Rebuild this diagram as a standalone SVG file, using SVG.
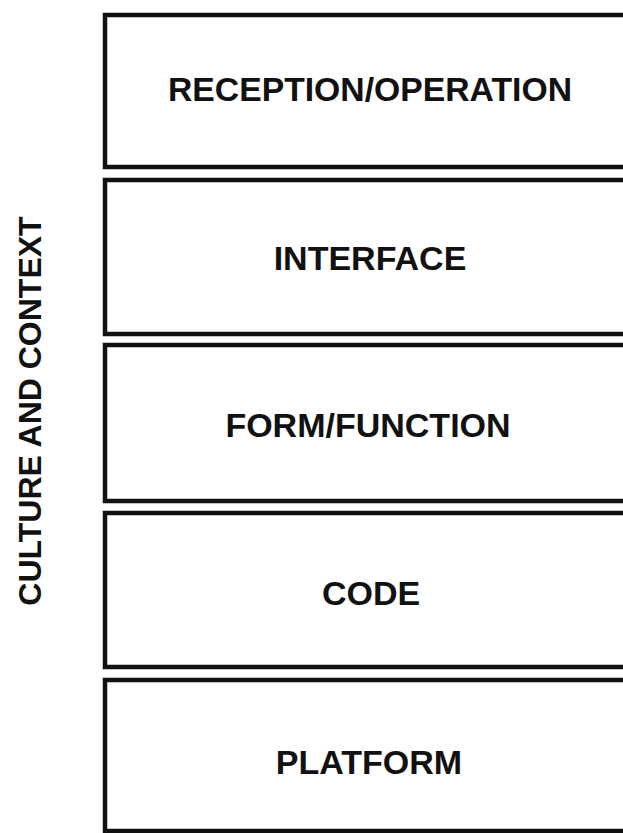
<svg xmlns="http://www.w3.org/2000/svg" width="623" height="833" viewBox="0 0 623 833">
<style>
.box{fill:#fff;stroke:#111;stroke-width:4.5}
.lbl{font-family:"Liberation Sans",Arial,sans-serif;font-weight:bold;font-size:34px;fill:#111;text-anchor:middle;dominant-baseline:central}
.side{font-size:32px}
</style>
<rect width="623" height="833" fill="#fff"/>
<g id="reception"><rect class="box" x="105" y="15" width="540" height="152"/><text class="lbl" x="370" y="89" textLength="404" lengthAdjust="spacingAndGlyphs">RECEPTION/OPERATION</text></g>
<g id="interface"><rect class="box" x="105" y="180" width="540" height="154"/><text class="lbl" x="370" y="258">INTERFACE</text></g>
<g id="formfunction"><rect class="box" x="105" y="345" width="540" height="156"/><text class="lbl" x="368" y="425">FORM/FUNCTION</text></g>
<g id="code"><rect class="box" x="105" y="513" width="540" height="154"/><text class="lbl" x="371" y="593">CODE</text></g>
<g id="platform"><rect class="box" x="105" y="680" width="540" height="151"/><text class="lbl" x="369" y="762">PLATFORM</text></g>
<g id="culture"><text class="lbl side" transform="translate(30,411) rotate(-90)" x="0" y="0">CULTURE AND CONTEXT</text></g>
<g id="connectors"/>
</svg>
